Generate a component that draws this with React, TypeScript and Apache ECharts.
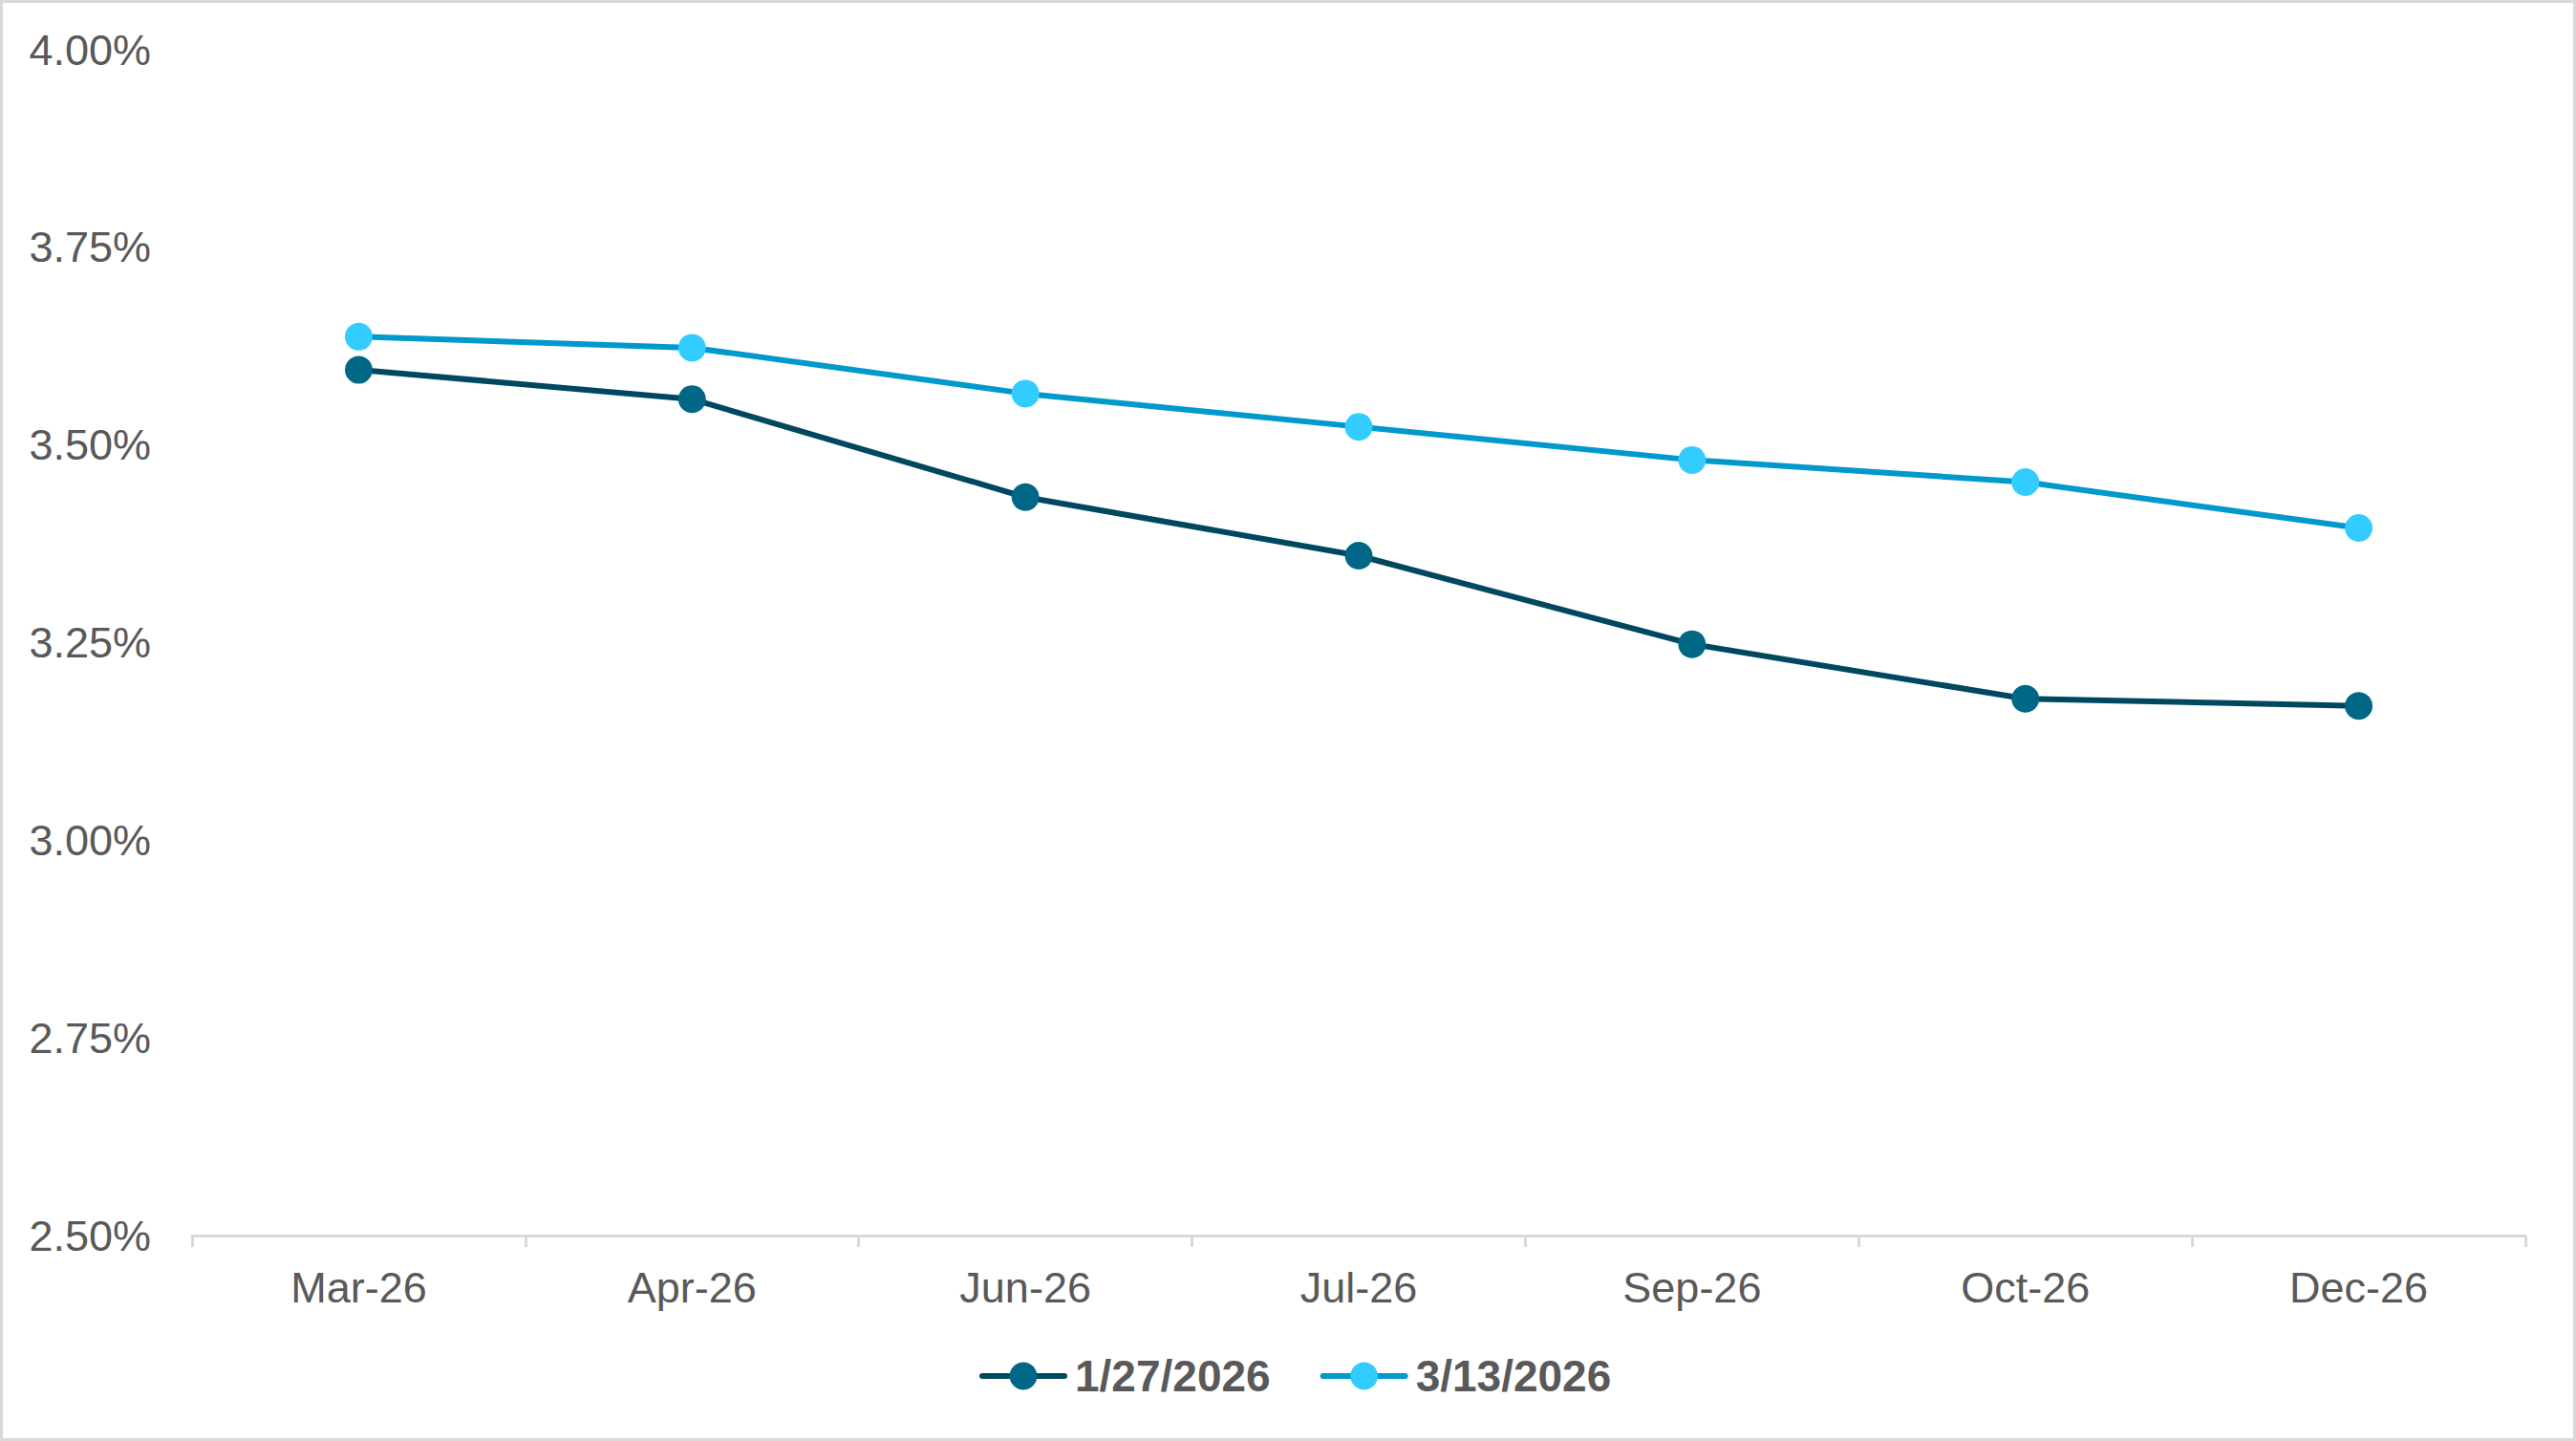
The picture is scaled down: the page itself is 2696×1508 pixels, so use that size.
import { useEffect, useRef } from "react";
import * as echarts from "echarts";

const months = ["Mar-26", "Apr-26", "Jun-26", "Jul-26", "Sep-26", "Oct-26", "Dec-26"];
const seriesNames = ["1/27/2026", "3/13/2026"];
const januaryValues = [3.595, 3.558, 3.434, 3.36, 3.248, 3.179, 3.17];
const marchValues = [3.637, 3.623, 3.565, 3.523, 3.481, 3.453, 3.395];
const yTicks = { min: 2.5, max: 4.0, step: 0.25 };

const FONT = '"Liberation Sans", Arial, sans-serif';
const TEXT_GRAY = "#595959";
const AXIS_GRAY = "#d9d9d9";

export default function App() {
  const chartRef = useRef<HTMLDivElement>(null);

  useEffect(() => {
    document.body.style.margin = "0";
    document.body.style.overflow = "hidden";
    if (!chartRef.current) return;

    const chart = echarts.init(chartRef.current, null, { renderer: "svg" });

    chart.setOption({
      animation: false,
      backgroundColor: "#ffffff",
      textStyle: { fontFamily: FONT },
      grid: {
        left: 201,
        right: 53,
        top: 52,
        bottom: 215,
        containLabel: false,
      },
      // thin grey frame round the whole chart
      graphic: [
        {
          type: "rect",
          shape: { x: 1.5, y: 1.5, width: 2693, height: 1505 },
          style: { fill: "none", stroke: AXIS_GRAY, lineWidth: 3 },
          silent: true,
        },
      ],
      legend: {
        data: seriesNames,
        left: 1020,
        top: 1412,
        itemWidth: 86,
        itemHeight: 36,
        itemGap: 52,
        lineStyle: { width: 6, cap: "round" },
        textStyle: {
          color: TEXT_GRAY,
          fontSize: 46,
          fontWeight: "bold",
          fontFamily: FONT,
          padding: [0, 0, 0, 6],
        },
      },
      xAxis: {
        type: "category",
        data: months,
        boundaryGap: true,
        axisLine: { show: true, lineStyle: { color: AXIS_GRAY, width: 3 } },
        axisTick: {
          show: true,
          length: 12,
          lineStyle: { color: AXIS_GRAY, width: 3 },
        },
        axisLabel: {
          color: TEXT_GRAY,
          fontSize: 45,
          fontFamily: FONT,
          margin: 32,
        },
        splitLine: { show: false },
      },
      yAxis: {
        type: "value",
        min: yTicks.min,
        max: yTicks.max,
        interval: yTicks.step,
        axisLine: { show: false },
        axisTick: { show: false },
        splitLine: { show: false },
        axisLabel: {
          color: TEXT_GRAY,
          fontSize: 45,
          fontFamily: FONT,
          margin: 43,
          formatter: (v: number) => `${v.toFixed(2)}%`,
        },
      },
      series: [
        {
          name: seriesNames[0],
          type: "line",
          data: januaryValues,
          symbol: "circle",
          symbolSize: 29,
          lineStyle: { color: "#00485F", width: 6 },
          itemStyle: { color: "#006786", borderWidth: 0 },
          z: 2,
        },
        {
          name: seriesNames[1],
          type: "line",
          data: marchValues,
          symbol: "circle",
          symbolSize: 29,
          lineStyle: { color: "#0099CC", width: 6 },
          itemStyle: { color: "#33CCFF", borderWidth: 0 },
          z: 3,
        },
      ],
    });

    return () => {
      chart.dispose();
    };
  }, []);

  return <div ref={chartRef} style={{ width: 2696, height: 1508 }} />;
}
